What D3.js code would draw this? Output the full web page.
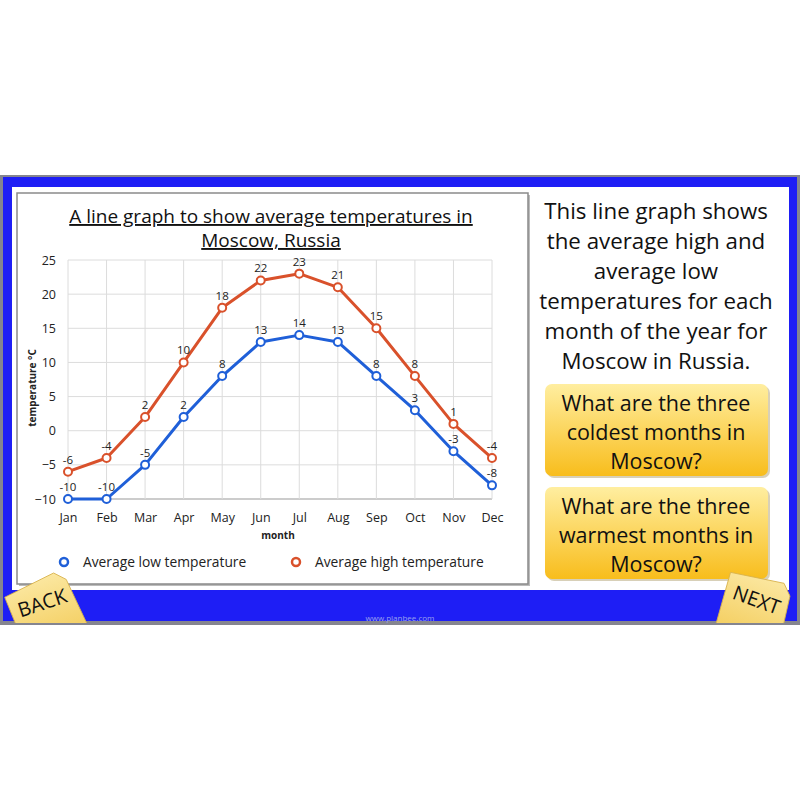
<!DOCTYPE html>
<html><head><meta charset="utf-8">
<script src="https://cdn.jsdelivr.net/npm/d3@7"></script>
<style>body{margin:0;background:#fff}svg{display:block}</style>
</head><body>
<script>
const months = ["Jan","Feb","Mar","Apr","May","Jun","Jul","Aug","Sep","Oct","Nov","Dec"];
const lowTemps = [-10,-10,-5,2,8,13,14,13,8,3,-3,-8];
const highTemps = [-6,-4,2,10,18,22,23,21,15,8,1,-4];
const yTicks = [-10,-5,0,5,10,15,20,25];
const titleLines = ["A line graph to show average temperatures in","Moscow, Russia"];
const infoLines = ["This line graph shows","the average high and","average low","temperatures for each","month of the year for","Moscow in Russia."];
const q1Lines = ["What are the three","coldest months in","Moscow?"];
const q2Lines = ["What are the three","warmest months in","Moscow?"];
const seriesNames = ["Average low temperature","Average high temperature"];

const FONT = "'Open Sans', 'Noto Sans', sans-serif";
const BLUE = "#1f5fd8", ORANGE = "#d9512b";

const svg = d3.select("body").append("svg").attr("width",800).attr("height",800);
const defs = svg.append("defs");
const g1 = defs.append("linearGradient").attr("id","yel").attr("x1",0).attr("y1",0).attr("x2",0).attr("y2",1);
g1.append("stop").attr("offset","0%").attr("stop-color","#ffeea0");
g1.append("stop").attr("offset","100%").attr("stop-color","#f8bd1c");
const g2 = defs.append("linearGradient").attr("id","tab").attr("x1",0).attr("y1",0).attr("x2",0).attr("y2",1);
g2.append("stop").attr("offset","0%").attr("stop-color","#fbe7a0");
g2.append("stop").attr("offset","100%").attr("stop-color","#f4cf62");
defs.append("clipPath").attr("id","frameclip").append("rect").attr("x",0).attr("y",175).attr("width",800).attr("height",448);

// frame
svg.append("rect").attr("x",0).attr("y",175).attr("width",800).attr("height",450).attr("fill","#85858f");
svg.append("rect").attr("x",3).attr("y",177).attr("width",794).attr("height",444).attr("fill","#1e1ef5");
svg.append("rect").attr("x",12).attr("y",187).attr("width",777).attr("height",403).attr("fill","#fff");
svg.append("text").attr("x",400).attr("y",621).attr("text-anchor","middle").attr("font-family",FONT)
  .attr("font-size",8).attr("fill","#9aa0ee").text("www.planbee.com");

// chart box
svg.append("rect").attr("x",19).attr("y",195).attr("width",511).attr("height",391).attr("fill","#bbb");
svg.append("rect").attr("x",17).attr("y",193).attr("width",511).attr("height",391).attr("fill","#fff").attr("stroke","#8a8a8a").attr("stroke-width",1.5);

// title
svg.selectAll(".title").data(titleLines).join("text")
  .attr("x",271).attr("y",(d,i)=>223+i*24).attr("text-anchor","middle")
  .attr("font-family",FONT).attr("font-size",19).attr("fill","#111")
  .attr("text-decoration","underline").text(d=>d);

const x = d3.scalePoint().domain(months).range([68,492]);
const y = d3.scaleLinear().domain([-10,25]).range([499,260]);

// grid
svg.append("g").selectAll("line").data(yTicks).join("line")
  .attr("x1",68).attr("x2",492).attr("y1",d=>y(d)).attr("y2",d=>y(d))
  .attr("stroke",d=>d===-10?"#999":"#dcdcdc").attr("stroke-width",1);
svg.append("g").selectAll("line").data(months).join("line")
  .attr("x1",d=>x(d)).attr("x2",d=>x(d)).attr("y1",260).attr("y2",499)
  .attr("stroke","#dcdcdc").attr("stroke-width",1);

// axes labels
const yAxis = svg.append("g").attr("transform","translate(62,0)")
  .call(d3.axisLeft(y).tickValues(yTicks).tickSize(0).tickPadding(6));
yAxis.select(".domain").remove();
yAxis.selectAll("text").attr("font-family",FONT).attr("font-size",12.5).attr("fill","#222");

const xAxis = svg.append("g").attr("transform","translate(0,510)")
  .call(d3.axisBottom(x).tickSize(0).tickPadding(3));
xAxis.select(".domain").remove();
xAxis.selectAll("text").attr("font-family",FONT).attr("font-size",12.5).attr("fill","#222");

svg.append("text").attr("x",278).attr("y",539).attr("text-anchor","middle").attr("font-family",FONT)
  .attr("font-size",10).attr("font-weight","bold").attr("fill","#222").text("month");
svg.append("text").attr("transform","translate(36,388) rotate(-90)").attr("text-anchor","middle")
  .attr("font-family",FONT).attr("font-size",10).attr("font-weight","bold").attr("fill","#222").text("temperature °C");

// series
const series = [{vals:lowTemps,color:BLUE},{vals:highTemps,color:ORANGE}];
const line = d3.line().x((d,i)=>x(months[i])).y(d=>y(d));
series.forEach(s=>{
  svg.append("path").datum(s.vals).attr("d",line).attr("fill","none")
    .attr("stroke",s.color).attr("stroke-width",3).attr("stroke-linejoin","round");
  svg.append("g").selectAll("circle").data(s.vals).join("circle")
    .attr("cx",(d,i)=>x(months[i])).attr("cy",d=>y(d)).attr("r",4)
    .attr("fill","#fff").attr("stroke",s.color).attr("stroke-width",2);
  svg.append("g").selectAll("text").data(s.vals).join("text")
    .attr("x",(d,i)=>x(months[i])).attr("y",d=>y(d)-8).attr("text-anchor","middle")
    .attr("font-family",FONT).attr("font-size",11.5).attr("fill","#222").text(d=>d);
});

// legend
const legX = [64,296];
seriesNames.forEach((n,i)=>{
  svg.append("circle").attr("cx",legX[i]).attr("cy",562).attr("r",4).attr("fill","#fff")
    .attr("stroke",series[i].color).attr("stroke-width",2.5);
  svg.append("text").attr("x",legX[i]+19).attr("y",567).attr("font-family",FONT).attr("font-size",13.8)
    .attr("fill","#222").text(n);
});

// right text
svg.selectAll(".info").data(infoLines).join("text")
  .attr("x",656).attr("y",(d,i)=>219+i*30).attr("text-anchor","middle")
  .attr("font-family",FONT).attr("font-size",22.3).attr("fill","#111").text(d=>d);

function qbox(y0, lines){
  svg.append("rect").attr("x",547).attr("y",y0+2).attr("width",223).attr("height",92).attr("rx",7).attr("fill","#d8d0b8");
  svg.append("rect").attr("x",545).attr("y",y0).attr("width",223).attr("height",92).attr("rx",7).attr("fill","url(#yel)");
  svg.selectAll(null).data(lines).join("text")
    .attr("x",656).attr("y",(d,i)=>y0+27+i*29).attr("text-anchor","middle")
    .attr("font-family",FONT).attr("font-size",21.5).attr("fill","#111").text(d=>d);
}
qbox(384, q1Lines);
qbox(487, q2Lines);

// BACK / NEXT tabs
const tabs = svg.append("g").attr("clip-path","url(#frameclip)");
function tab(cx, cy, ang, label){
  const t = tabs.append("g").attr("transform",`translate(${cx},${cy}) rotate(${ang})`);
  t.append("path").attr("d","M-34,-16 L20,-24 L30,-14 L36,34 L-30,38 Z").attr("fill","url(#tab)")
    .attr("stroke","#d7b14a").attr("stroke-width",0.8);
  t.append("text").attr("x",0).attr("y",8).attr("text-anchor","middle").attr("font-family",FONT)
    .attr("font-size",20).attr("fill","#111").text(label);
}
tab(42, 602, -18, "BACK");
tab(757, 599, 20, "NEXT");
</script>
</body></html>
